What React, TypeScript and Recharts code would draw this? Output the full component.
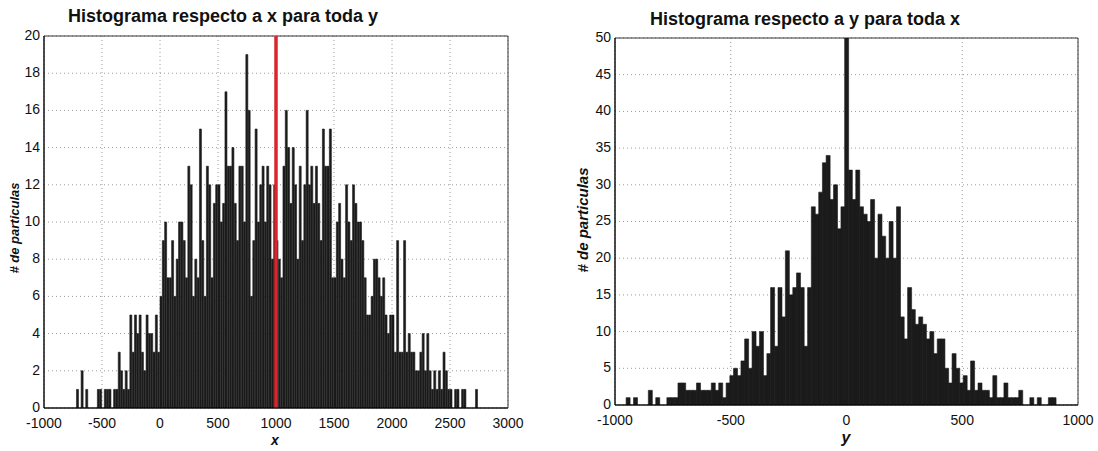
import { BarChart, Bar, XAxis, YAxis, CartesianGrid, ReferenceLine, ReferenceArea } from 'recharts';

// histograma en x: bins de 20 desde -720
const X_MIN = -1000;
const X_MAX = 3000;
const X_BIN = 20;
const X_FIRST = -720;
const X_COUNTS = [
  1, 0, 2, 0, 1, 0, 0, 0, 0, 1,
  1, 0, 1, 1, 1, 0, 1, 1, 3, 2,
  1, 2, 1, 5, 3, 5, 4, 5, 3, 2,
  5, 4, 4, 3, 5, 3, 6, 9, 10, 7,
  7, 9, 6, 8, 10, 10, 9, 7, 13, 12,
  6, 8, 7, 15, 9, 6, 13, 12, 7, 11,
  12, 12, 10, 11, 17, 13, 13, 14, 11, 9,
  13, 13, 10, 19, 16, 6, 9, 15, 10, 12,
  13, 10, 13, 12, 8, 12, 9, 8, 7, 13,
  16, 14, 11, 14, 12, 8, 13, 9, 12, 16,
  12, 13, 11, 13, 11, 9, 15, 13, 13, 15,
  7, 7, 10, 11, 8, 7, 12, 10, 9, 12,
  11, 10, 10, 9, 7, 5, 5, 6, 8, 8,
  7, 6, 7, 5, 4, 5, 5, 3, 9, 3,
  3, 9, 3, 4, 3, 3, 2, 2, 3, 4,
  2, 4, 2, 1, 2, 1, 2, 1, 3, 2,
  1, 1, 0, 1, 1, 0, 1, 1, 0, 0,
  0, 0, 1, 0,
];
const X_TICKS = [-1000, -500, 0, 500, 1000, 1500, 2000, 2500, 3000];
const X_COUNT_TICKS = [0, 2, 4, 6, 8, 10, 12, 14, 16, 18, 20];
const X_MARK = 1000;

// histograma en y: bins de 16 desde -1000
const Y_MIN = -1000;
const Y_MAX = 1000;
const Y_BIN = 16;
const Y_FIRST = -1000;
const Y_COUNTS = [
  0, 0, 0, 1, 0, 1, 0, 0, 0, 2,
  0, 1, 0, 0, 1, 1, 1, 3, 3, 2,
  2, 2, 3, 2, 2, 2, 3, 2, 3, 1,
  3, 4, 5, 4, 6, 9, 5, 10, 8, 10,
  4, 7, 16, 8, 16, 12, 21, 15, 16, 18,
  16, 8, 16, 27, 26, 29, 33, 34, 28, 30,
  24, 27, 50, 32, 28, 32, 27, 26, 25, 28,
  20, 26, 23, 20, 25, 20, 27, 12, 9, 16,
  13, 11, 12, 11, 9, 10, 7, 9, 9, 5,
  3, 7, 5, 3, 4, 2, 6, 2, 3, 2,
  2, 1, 4, 1, 1, 3, 1, 1, 1, 2,
  0, 0, 1, 0, 1, 0, 0, 1, 1, 0,
  0, 0, 0, 0, 0,
];
const Y_TICKS = [-1000, -500, 0, 500, 1000];
const Y_COUNT_TICKS = [0, 5, 10, 15, 20, 25, 30, 35, 40, 45, 50];

const FONT = '"Liberation Sans", Arial, Helvetica, sans-serif';
const BAR_COLOR = '#1b1b1b';

function buildBins(min: number, max: number, bin: number, first: number, counts: number[]) {
  const rows = [];
  const n = Math.round((max - min) / bin);
  for (let i = 0; i < n; i++) {
    const left = min + i * bin;
    const idx = Math.round((left - first) / bin);
    rows.push({ bin: left + bin / 2, count: idx >= 0 && idx < counts.length ? counts[idx] : 0 });
  }
  return rows;
}

const xData = buildBins(X_MIN, X_MAX, X_BIN, X_FIRST, X_COUNTS);
const yData = buildBins(Y_MIN, Y_MAX, Y_BIN, Y_FIRST, Y_COUNTS);

const tickStyle = { fontSize: 14, fill: '#111', fontFamily: FONT };

interface HistProps {
  data: { bin: number; count: number }[];
  min: number;
  max: number;
  ticks: number[];
  countTicks: number[];
  margin: { top: number; right: number; bottom: number; left: number };
  mark?: number;
}

function Histogram({ data, min, max, ticks, countTicks, margin, mark }: HistProps) {
  const top = countTicks[countTicks.length - 1];
  return (
    <BarChart width={549} height={451} data={data} margin={margin} barCategoryGap={0} barGap={0}>
      <XAxis
        xAxisId="num"
        dataKey="bin"
        type="number"
        domain={[min, max]}
        ticks={ticks}
        interval={0}
        allowDataOverflow
        height={30}
        tickLine={false}
        tickSize={4}
        tickMargin={6}
        tick={tickStyle}
        axisLine={{ stroke: '#000' }}
      />
      <XAxis xAxisId="bins" dataKey="bin" type="category" hide height={0} />
      <YAxis
        domain={[0, top]}
        ticks={countTicks}
        interval={0}
        allowDataOverflow
        width={40}
        tickLine={false}
        tickSize={3}
        tickMargin={1}
        tick={{ ...tickStyle, dy: -1 }}
        axisLine={{ stroke: '#000' }}
      />
      <CartesianGrid xAxisId="num" stroke="#9a9a9a" strokeDasharray="1 3" />
      <Bar
        xAxisId="bins"
        dataKey="count"
        fill={BAR_COLOR}
        stroke={BAR_COLOR}
        strokeWidth={0.6}
        isAnimationActive={false}
      />
      {mark !== undefined && (
        <ReferenceLine xAxisId="num" x={mark} stroke="#d8262c" strokeWidth={3.5} />
      )}
      <ReferenceArea xAxisId="num" x1={min} x2={max} y1={0} y2={top} fill="none" stroke="#333" />
    </BarChart>
  );
}

const textBase = { position: 'absolute' as const, fontFamily: FONT, color: '#111', whiteSpace: 'nowrap' as const };

export default function App() {
  return (
    <div style={{ position: 'absolute', left: 0, top: 0, width: 1098, height: 451, background: '#fff', overflow: 'hidden' }}>
      <div style={{ position: 'absolute', left: 0, top: 0 }}>
        <Histogram
          data={xData}
          min={X_MIN}
          max={X_MAX}
          ticks={X_TICKS}
          countTicks={X_COUNT_TICKS}
          margin={{ top: 36, right: 41, bottom: 13, left: 4 }}
          mark={X_MARK}
        />
      </div>
      <div style={{ position: 'absolute', left: 549, top: 0 }}>
        <Histogram
          data={yData}
          min={Y_MIN}
          max={Y_MAX}
          ticks={Y_TICKS}
          countTicks={Y_COUNT_TICKS}
          margin={{ top: 38, right: 20, bottom: 16, left: 26 }}
        />
      </div>

      <div style={{ ...textBase, left: 68, top: 6, fontSize: 18, fontWeight: 700 }}>
        Histograma respecto a x para toda y
      </div>
      <div style={{ ...textBase, left: 650, top: 9, fontSize: 18, fontWeight: 700 }}>
        Histograma respecto a y para toda x
      </div>

      <div style={{ ...textBase, left: 14, top: 228, fontSize: 13, fontWeight: 700, fontStyle: 'italic', transform: 'translate(-50%, -50%) rotate(-90deg)' }}>
        # de particulas
      </div>
      <div style={{ ...textBase, left: 582, top: 220, fontSize: 15, fontWeight: 700, fontStyle: 'italic', transform: 'translate(-50%, -50%) rotate(-90deg)' }}>
        # de particulas
      </div>

      <div style={{ ...textBase, left: 275, top: 440, fontSize: 14, fontWeight: 700, fontStyle: 'italic', transform: 'translate(-50%, -50%)' }}>
        x
      </div>
      <div style={{ ...textBase, left: 846, top: 438, fontSize: 16, fontWeight: 700, fontStyle: 'italic', transform: 'translate(-50%, -50%)' }}>
        y
      </div>
    </div>
  );
}
